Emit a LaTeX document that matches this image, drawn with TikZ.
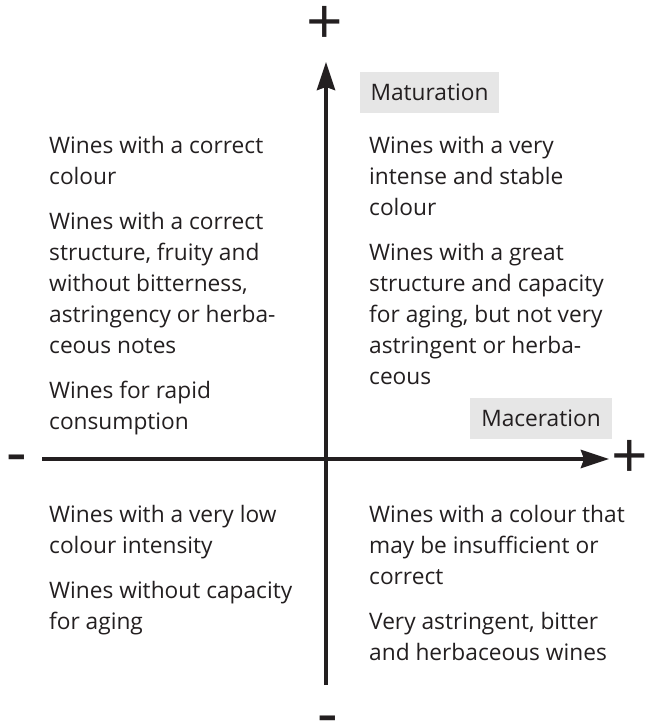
\documentclass[tikz,border=0pt]{standalone}
\usepackage{fontspec}
\setmainfont{Open Sans}
\usetikzlibrary{arrows.meta,positioning}
\definecolor{ink}{HTML}{231F20}
\definecolor{tag}{HTML}{E6E6E6}
\tikzset{
  blurb/.style={anchor=north west,inner sep=0pt,align=left,text=ink,
    font=\fontsize{22.7}{31}\selectfont},
  axislabel/.style={fill=tag,text=ink,inner xsep=11pt,minimum height=41pt,
    font=\fontsize{22.7}{26}\selectfont},
  sign/.style={text=ink,inner sep=0pt,font=\fontsize{64}{66}\selectfont},
  axis/.style={draw=ink,line width=4pt,-{Stealth[length=28pt,width=18pt,inset=3pt]}}
}
\begin{document}
\begin{tikzpicture}[x=1pt,y=-1pt]
\useasboundingbox (0,0) rectangle (647,723);
%\draw[help lines] (0,0) grid[step=50] (647,723);
% axes
\coordinate (south) at (326,685);
\coordinate (north) at (326,62);
\coordinate (west) at (42,459);
\coordinate (east) at (609,459);
\draw[axis] (west) -- (east);
\draw[axis] (south) -- (north);
% signs
\node[sign] (plusN) at (325,25) {+};
\node[sign] (plusE) at (630,459) {+};
\node[sign] (minusW) at (17,465) {-};
\node[sign] (minusS) at (328,726) {-};
% axis labels
\node[axislabel] (matur) at (429.5,92.5) {Maturation};
\node[axislabel] (macer) at (541,418.5) {Maceration};
% quadrants
\node[blurb] (ul) at (49,136) {Wines with a correct\\colour\\[14pt]
  Wines with a correct\\structure, fruity and\\without bitterness,\\
  astringency or herba-\\ceous notes\\[14pt]Wines for rapid\\consumption};
\node[blurb] (ur) at (369,136) {Wines with a very\\intense and stable\\colour\\[14pt]
  Wines with a great\\structure and capacity\\for aging, but not very\\
  astringent or herba-\\ceous};
\node[blurb] (ll) at (49,505) {Wines with a very low\\colour intensity\\[14pt]
  Wines without capacity\\for aging};
\node[blurb] (lr) at (369,505) {Wines with a colour that\\may be insufficient or\\correct\\[14pt]
  Very astringent, bitter\\and herbaceous wines};
\end{tikzpicture}
\end{document}
